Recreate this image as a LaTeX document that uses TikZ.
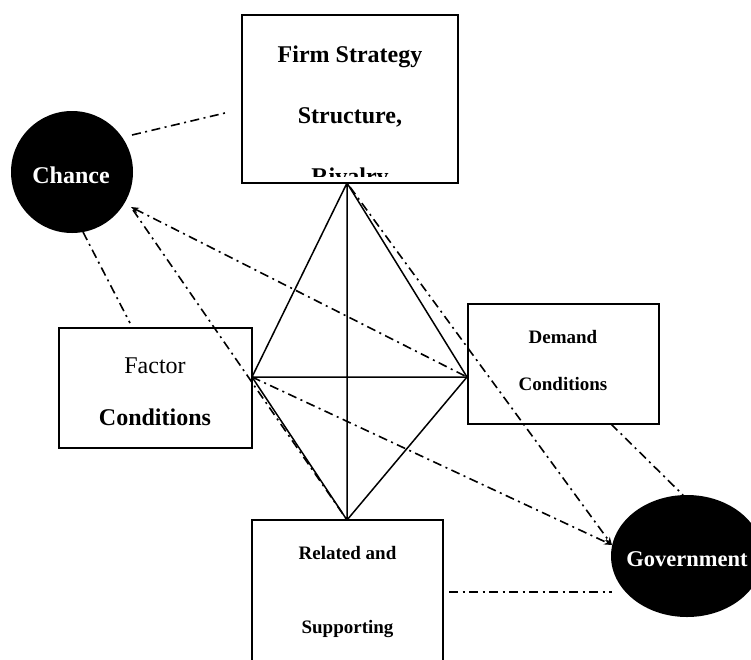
\documentclass[tikz,border=0pt]{standalone}
\usepackage{fontspec}
\setmainfont{Liberation Serif}
\usetikzlibrary{arrows.meta,shapes.geometric}
\begin{document}
\begin{tikzpicture}[x=1pt,y=-1pt,
  box/.style={draw, line width=1.8pt, inner sep=0pt, rectangle},
  edge/.style={line width=1.5pt},
  dd/.style={line width=1.6pt, dash pattern=on 9pt off 4.5pt on 2pt off 4.5pt},
  lbl/.style={inner sep=0pt, anchor=base},
  big/.style={font=\fontsize{24}{28}\selectfont\bfseries},
  mid/.style={font=\fontsize{19}{22}\selectfont\bfseries},
  tipend/.style={-{Stealth[length=8pt,width=6pt]}},
  tipstart/.style={{Stealth[length=8pt,width=6pt]}-}]
\useasboundingbox (0,0) rectangle (751,659);
% boxes
\node[box, minimum width=216pt, minimum height=168pt] (firm) at (350,99) {};
\node[box, minimum width=193pt, minimum height=120pt] (factor) at (155.5,388) {};
\node[box, minimum width=191pt, minimum height=120pt] (demand) at (563.5,364) {};
\node[box, minimum width=191pt, minimum height=160pt] (related) at (347.5,600) {};
% circles
\node[circle, fill=black, minimum size=122pt, inner sep=0pt] (chance) at (72,172) {};
\node[ellipse, fill=black, minimum width=152pt, minimum height=122pt, inner sep=0pt] (gov) at (687,556) {};
% texts
\node[lbl, big] (t1) at (350,62) {Firm Strategy};
\node[lbl, big] (t2) at (350,123) {Structure,};
\begin{scope}
  \clip (243,16) rectangle (457,176);
  \node[lbl, big] (t3) at (350,184) {Rivalry};
\end{scope}
\node[lbl, big, text=white] (tc) at (71,183) {Chance};
\node[lbl, font=\fontsize{22.5}{26}\selectfont\bfseries, text=white] (tg) at (687,566) {Government};
\node[lbl, font=\fontsize{24}{28}\selectfont] (tf1) at (155,373) {Factor};
\node[lbl, big] (tf2) at (155,425) {Conditions};
\node[lbl, mid] (td1) at (563,343) {Demand};
\node[lbl, mid] (td2) at (563,390) {Conditions};
\node[lbl, mid] (tr1) at (347.5,559) {Related and};
\node[lbl, mid] (tr2) at (347.5,633) {Supporting};
% diamond vertices
\coordinate (T) at (347,183);
\coordinate (L) at (252,377);
\coordinate (R) at (467,377);
\coordinate (B) at (347,520);
\draw[edge] (T) -- (L) (T) -- (R) (T) -- (B) (L) -- (R) (L) -- (B) (R) -- (B);
% dash-dot connector ends
\coordinate (c1) at (132,135);
\coordinate (c2) at (131,207);
\coordinate (c3) at (133,210);
\coordinate (c4) at (83,232);
\coordinate (f1) at (225,113);
\coordinate (fa) at (130,323);
\coordinate (T2) at (350,187);
\coordinate (g1) at (612,545);
\coordinate (g2) at (683,495);
\coordinate (g3) at (612,592);
\coordinate (d1) at (611,424);
\coordinate (r1) at (449,592);
\draw[dd] (c1) -- (f1);
\draw[dd, tipstart] (c2) -- (R);
\draw[dd] (c3) -- (B);
\draw[dd] (c4) -- (fa);
\draw[dd, tipend] (T2) -- (g1);
\draw[dd, tipend] (L) -- (g1);
\draw[dd] (d1) -- (g2);
\draw[dd] (r1) -- (g3);
\end{tikzpicture}
\end{document}
